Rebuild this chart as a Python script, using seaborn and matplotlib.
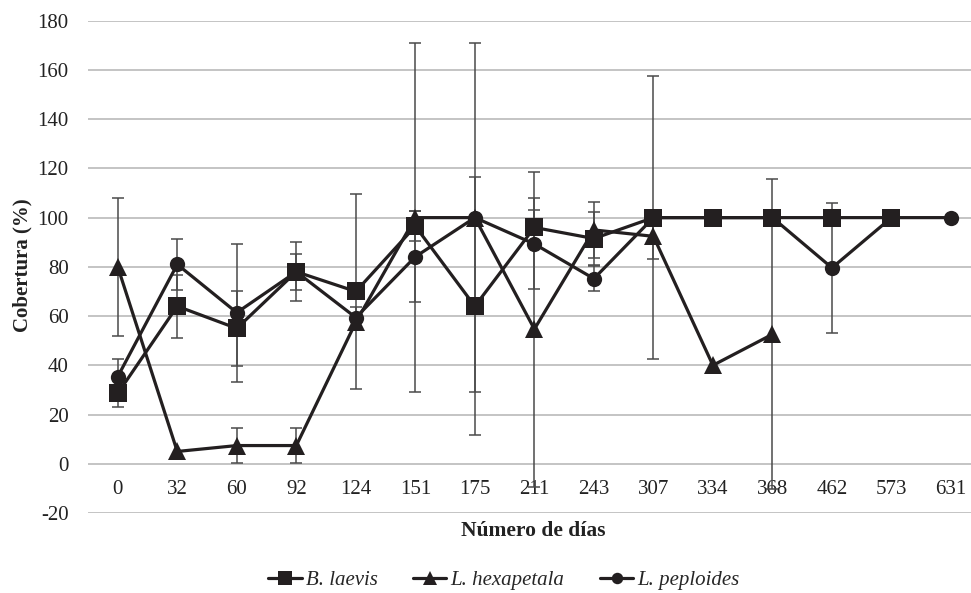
import numpy as np
import pandas as pd
import matplotlib
matplotlib.use("Agg")
import matplotlib.pyplot as plt
import seaborn as sns

# Sampling days (categorical axis)
days = ["0", "32", "60", "92", "124", "151", "175", "211", "243", "307",
        "334", "368", "462", "573", "631"]

# Mean cover (%) and its spread for each species
b_laevis = [28.6, 64, 55, 78, 70, 96.5, 64, 96, 91.5, 100, 100, 100, 100, 100]
b_laevis_err = [5.4, 12.8, 15.2, 12, 39.5, 6, 52.3, 7, 10.8, 0, 0, 0, 0, 0]

l_hexapetala = [80, 5, 7.4, 7.4, 57.5, 100, 100, 54.7, 95, 92.4, 40, 52.6]
l_hexapetala_err = [28, 0, 7, 7, 0, 70.8, 70.9, 64, 11.3, 9.3, 0, 63]

l_peploides = [35.4, 81, 61.4, 78, 59.4, 84.1, 100, 89.3, 75.2, 100, 100,
               100, 79.6, 100, 100]
l_peploides_err = [7, 10.4, 28, 7.3, 4.3, 18.4, 0, 18.5, 5, 57.5, 0, 0,
                   26.3, 0, 0]

series = [
    ("B. laevis", b_laevis, b_laevis_err, "s", 12.5),
    ("L. hexapetala", l_hexapetala, l_hexapetala_err, "^", 13),
    ("L. peploides", l_peploides, l_peploides_err, "o", 11),
]

sns.set_theme(style="white")
plt.rcParams["font.family"] = ["Liberation Serif", "DejaVu Serif"]
plt.rcParams["axes.unicode_minus"] = False

ink = "#231f20"
grid_c = "#bfbfbf"
txt = "#222222"
fs = 15

fig = plt.figure(figsize=(9.71, 5.93), dpi=100)
ax = fig.add_axes([88 / 971, (593 - 513) / 593, (971 - 88) / 971,
                   (513 - 20.7) / 593])

frames = []
for name, vals, errs, mk, ms in series:
    frames.append(pd.DataFrame({
        "pos": np.arange(len(vals)),
        "cover": vals,
        "err": errs,
        "species": name,
    }))
df = pd.concat(frames, ignore_index=True)

# error bars beneath the lines
for name, vals, errs, mk, ms in series:
    sub = df[df["species"] == name]
    e = sub["err"].to_numpy()
    mask = e > 0
    ax.errorbar(sub["pos"].to_numpy()[mask], sub["cover"].to_numpy()[mask],
                yerr=e[mask], fmt="none", ecolor="#4a4a4a", elinewidth=1.1,
                capsize=4, capthick=1.1, zorder=2)

sns.lineplot(data=df, x="pos", y="cover", hue="species", style="species",
             markers={s[0]: s[3] for s in series}, dashes=False,
             palette={s[0]: ink for s in series}, linewidth=2.3,
             markeredgewidth=0, ax=ax, legend=False, sort=False, zorder=3,
             estimator=None)

# marker sizes per species
for line, (name, vals, errs, mk, ms) in zip(ax.lines[-3:], series):
    line.set_markersize(ms)

ax.set_xlim(-0.5, (971 - 118) / 59.5)
ax.set_ylim(-20, 180)
ax.set_yticks(np.arange(-20, 181, 20))
ax.yaxis.grid(True, color=grid_c, linewidth=1.3)
ax.xaxis.grid(False)
ax.set_axisbelow(True)
for sp in ax.spines.values():
    sp.set_visible(False)

ax.set_xticks(np.arange(len(days)))
ax.set_xticklabels([])
for i, d in enumerate(days):
    ax.text(i, -10.3, d, ha="center", va="center", fontsize=fs, color=txt,
            zorder=1)

ax.tick_params(axis="y", length=0, pad=14, labelsize=fs, labelcolor=txt)
ax.tick_params(axis="x", length=0)
ax.set_xlabel("")
ax.set_ylabel("")

fig.text(22 / 971, 1 - 265 / 593, "Cobertura (%)", rotation=90, ha="center",
         va="center", fontsize=fs, fontweight="bold", color=txt)
fig.text(533 / 971, 1 - 531 / 593, "Número de días", ha="center",
         va="center", fontsize=fs + 0.5, fontweight="bold", color=txt)

handles = [
    plt.Line2D([], [], color=ink, linewidth=2.3, marker=mk, markersize=ms * 0.75,
               markeredgewidth=0)
    for name, vals, errs, mk, ms in series
]
fig.legend(handles, [s[0] for s in series], loc="center",
           bbox_to_anchor=(504 / 971, 1 - 580 / 593), ncol=3, frameon=False,
           prop={"family": ["Liberation Serif"], "style": "italic", "size": fs},
           handlelength=1.6, handletextpad=0.2, columnspacing=1.7)

fig.savefig("out.png", dpi=100)
